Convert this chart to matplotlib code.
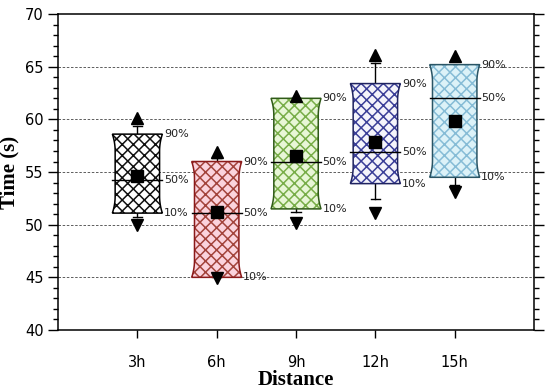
import numpy as np
import matplotlib.pyplot as plt
from matplotlib.patches import Polygon

# data
labels = ["3h", "6h", "9h", "12h", "15h"]
p10 = [51.1, 45.0, 51.5, 53.9, 54.5]
p50 = [54.2, 51.1, 56.0, 56.9, 62.0]
p90 = [58.6, 56.0, 62.0, 63.4, 65.2]
means = [54.6, 51.2, 56.5, 57.9, 59.8]
cap_low = [50.7, 45.0, 51.2, 52.4, 53.8]
cap_high = [59.4, 56.3, 62.0, 65.4, 65.2]
v_min = [50.0, 44.9, 50.2, 51.1, 53.1]
v_max = [60.1, 56.9, 62.2, 66.1, 66.0]

face_colors = ["#ffffff", "#fbd3dd", "#e8f6d6", "#f4f4fb", "#dcf2f8"]
hatch_colors = ["#111111", "#a3443c", "#78ad48", "#3b3f98", "#86bcd6"]
edge_colors = ["#000000", "#8b1a1a", "#2f5a18", "#1f2360", "#2a5565"]

plt.rcParams["hatch.linewidth"] = 1.1

fig = plt.figure(figsize=(5.5, 3.91), dpi=100)
ax = fig.add_axes([0.1055, 0.156, 0.8655, 0.808])

x = np.arange(1, len(labels) + 1)
half = 0.315
inset = 0.035


def box_outline(xc, lo, hi):
    h = hi - lo
    flare = min(1.6, 0.22 * h)
    s = np.linspace(0, 1, 15)
    w = half - inset + inset * (1 - s) ** 2
    y_bot = lo + s * flare
    y_top = hi - s * flare
    right = list(zip(xc + w, y_bot)) + list(zip((xc + w)[::-1], y_top[::-1]))
    left = [(2 * xc - px, py) for px, py in right[::-1]]
    return right + left


for i, xc in enumerate(x):
    ax.plot([xc, xc], [p90[i], cap_high[i]], color="black", lw=1, zorder=2)
    ax.plot([xc, xc], [p10[i], cap_low[i]], color="black", lw=1, zorder=2)
    ax.plot([xc - 0.06, xc + 0.06], [cap_high[i]] * 2, color="black", lw=1, zorder=2)
    ax.plot([xc - 0.06, xc + 0.06], [cap_low[i]] * 2, color="black", lw=1, zorder=2)

    pts = box_outline(xc, p10[i], p90[i])
    ax.add_patch(Polygon(pts, closed=True, facecolor=face_colors[i], edgecolor="none", zorder=3))
    ax.add_patch(Polygon(pts, closed=True, facecolor="none", edgecolor=hatch_colors[i],
                         hatch="xxx", lw=0, zorder=3))
    ax.add_patch(Polygon(pts, closed=True, facecolor="none", edgecolor=edge_colors[i],
                         lw=1.1, zorder=4))
    ax.plot([xc - half, xc + half], [p50[i]] * 2, color="black", lw=1.0, zorder=4)

    ax.plot(xc, means[i], "s", color="black", ms=8.5, zorder=5)
    ax.plot(xc, v_max[i], "^", color="black", ms=9, zorder=5)
    ax.plot(xc, v_min[i], "v", color="black", ms=9, zorder=5)

    for val, txt in [(p90[i], "90%"), (p50[i], "50%"), (p10[i], "10%")]:
        ax.text(xc + half + 0.02, val, txt, fontsize=8, color="#222222",
                va="center", ha="left", zorder=6)

ax.set_xlim(0, 6)
ax.set_ylim(40, 70)
ax.set_xticks(x)
ax.set_xticklabels(labels)
ax.set_yticks(np.arange(40, 71, 5))
ax.set_yticks(np.arange(40, 71, 1), minor=True)
ax.tick_params(axis="y", which="major", direction="out", length=7, width=1,
               labelsize=10.5, right=True)
ax.tick_params(axis="y", which="minor", direction="out", length=3.5, width=1, right=True)
ax.tick_params(axis="x", direction="out", length=6, width=1, labelsize=10.5, pad=12)

for y in range(45, 70, 5):
    ax.axhline(y, color="#444444", lw=0.6, ls=(0, (3, 2)), zorder=1)

for sp in ax.spines.values():
    sp.set_linewidth(1.1)

ax.set_xlabel("Distance", fontsize=15, fontweight="bold", family="Liberation Serif", labelpad=0)
ax.set_ylabel("Time (s)", fontsize=15, fontweight="bold", family="Liberation Serif", labelpad=4)

fig.savefig("out.png", dpi=100)
